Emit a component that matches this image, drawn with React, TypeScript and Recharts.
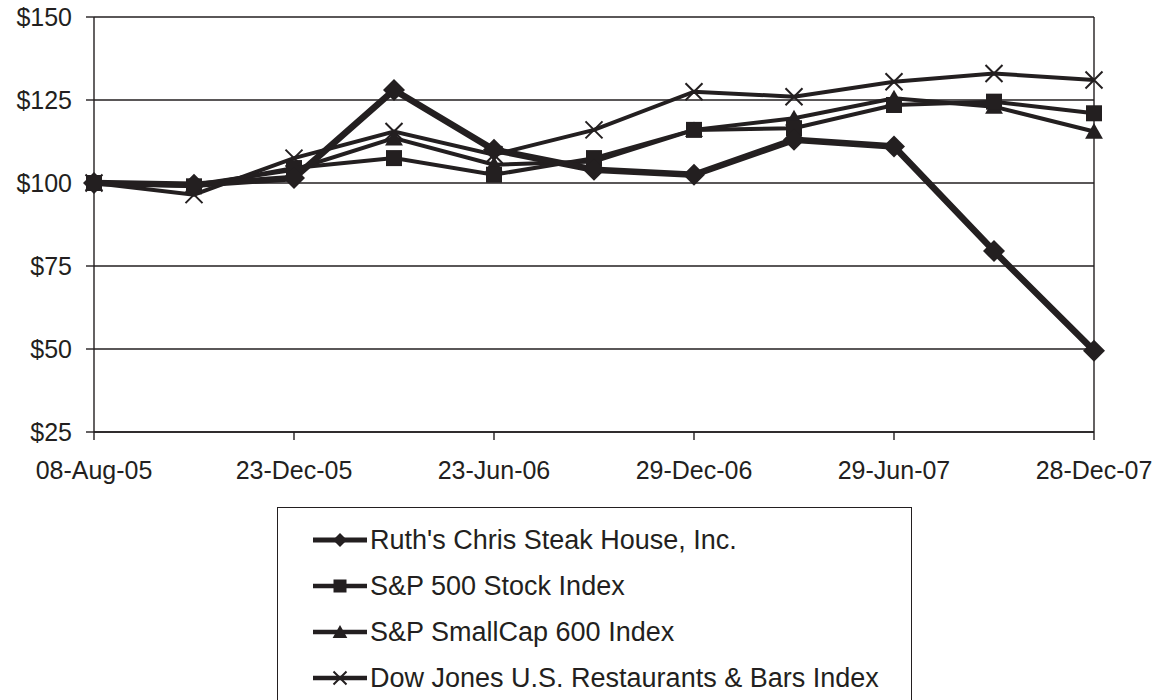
import React from 'react';
import { LineChart, Line, XAxis, YAxis, CartesianGrid, Legend, ReferenceLine } from 'recharts';

// ---- data ----
const periods = [0, 1, 2, 3, 4, 5, 6, 7, 8, 9, 10];
const dateLabels = ['08-Aug-05', '23-Dec-05', '23-Jun-06', '29-Dec-06', '29-Jun-07', '28-Dec-07'];
const labelPositions = [0, 2, 4, 6, 8, 10];
const ruthsChris = [100, 99.5, 101.5, 128, 110, 104, 102.5, 113, 111, 79.5, 49.5];
const sp500 = [100, 99, 104.5, 107.5, 102.5, 107.5, 116, 116.5, 123.5, 124.5, 121];
const smallCap600 = [100, 99.5, 104, 113.5, 105.5, 106.5, 116, 119.5, 125.5, 123, 115.5];
const dowJonesRestaurants = [100, 96.5, 107.5, 115.5, 108.5, 116, 127.5, 126, 130.5, 133, 131];
const yTicks = [25, 50, 75, 100, 125, 150];
const seriesNames = [
  "Ruth's Chris Steak House, Inc.",
  'S&P 500 Stock Index',
  'S&P SmallCap 600 Index',
  'Dow Jones U.S. Restaurants & Bars Index',
];

const data = periods.map((p, i) => ({
  period: p,
  ruth: ruthsChris[i],
  sp500: sp500[i],
  small: smallCap600[i],
  dow: dowJonesRestaurants[i],
}));

const INK = '#231f20';
const FONT = '"Liberation Sans", Arial, Helvetica, sans-serif';

type Shape = 'diamond' | 'square' | 'triangle' | 'x';

function marker(shape: Shape, cx: number, cy: number, s: number, key?: any) {
  if (shape === 'diamond') {
    return (
      <path key={key} d={`M${cx},${cy - s}L${cx + s},${cy}L${cx},${cy + s}L${cx - s},${cy}Z`} fill={INK} stroke="none" />
    );
  }
  if (shape === 'square') {
    return <rect key={key} x={cx - s} y={cy - s} width={2 * s} height={2 * s} fill={INK} />;
  }
  if (shape === 'triangle') {
    return (
      <path key={key} d={`M${cx},${cy - s}L${cx + s * 1.05},${cy + s * 0.85}L${cx - s * 1.05},${cy + s * 0.85}Z`} fill={INK} />
    );
  }
  return (
    <path key={key} d={`M${cx - s},${cy - s}L${cx + s},${cy + s}M${cx + s},${cy - s}L${cx - s},${cy + s}`} stroke={INK} strokeWidth={2} fill="none" />
  );
}

const dotFor = (shape: Shape, s: number) => (props: any) => {
  const { cx, cy, key, index } = props;
  if (cx == null || cy == null) return <g key={key ?? index} />;
  return marker(shape, cx, cy, s, key ?? `${shape}-${index}`);
};

const legendShapes: Shape[] = ['diamond', 'square', 'triangle', 'x'];
const legendSizes = [7, 6.5, 7, 6.5];
const legendWidths = [5, 4.5, 4.5, 4.5];

const renderLegend = () => (
  <div
    style={{
      border: `1px solid ${INK}`,
      boxSizing: 'border-box',
      width: 635,
      height: 215,
      paddingTop: 9,
      fontFamily: FONT,
      fontSize: 27,
      color: INK,
    }}
  >
    {seriesNames.map((name, i) => (
      <div key={name} style={{ display: 'flex', alignItems: 'center', height: 46 }}>
        <svg width={54} height={24} style={{ marginLeft: 35, marginRight: 3, flex: 'none' }}>
          <line x1={0} y1={12} x2={54} y2={12} stroke={INK} strokeWidth={legendWidths[i]} />
          {marker(legendShapes[i], 27, 12, legendSizes[i])}
        </svg>
        <span style={{ whiteSpace: 'nowrap', lineHeight: '30px' }}>{name}</span>
      </div>
    ))}
  </div>
);

export default function App() {
  return (
    <div style={{ position: 'absolute', left: 0, top: 0, width: 1162, height: 700, background: '#fff', overflow: 'hidden' }}>
      <LineChart width={1162} height={700} data={data} margin={{ top: 17, right: 68, left: 0, bottom: 208 }}>
        <CartesianGrid vertical={false} stroke={INK} strokeWidth={1.4} />
        <XAxis
          type="number"
          dataKey="period"
          domain={[0, 10]}
          ticks={labelPositions}
          tickFormatter={(v: number) => dateLabels[labelPositions.indexOf(v)] ?? ''}
          height={60}
          tickSize={8}
          tickMargin={21}
          axisLine={{ stroke: INK, strokeWidth: 1.4 }}
          tickLine={{ stroke: INK, strokeWidth: 1.4 }}
          tick={{ fill: INK, fontSize: 25, fontFamily: FONT }}
          interval={0}
        />
        <YAxis
          domain={[25, 150]}
          ticks={yTicks}
          tickFormatter={(v: number) => `$${v}`}
          width={94}
          tickSize={8}
          tickMargin={14}
          axisLine={{ stroke: INK, strokeWidth: 1.4 }}
          tickLine={{ stroke: INK, strokeWidth: 1.4 }}
          tick={{ fill: INK, fontSize: 25, fontFamily: FONT }}
          interval={0}
        />
        <ReferenceLine x={10} stroke={INK} strokeWidth={1.4} />
        <Line dataKey="dow" name={seriesNames[3]} stroke={INK} strokeWidth={4} dot={dotFor('x', 8.5)} isAnimationActive={false} />
        <Line dataKey="small" name={seriesNames[2]} stroke={INK} strokeWidth={4} dot={dotFor('triangle', 8.5)} isAnimationActive={false} />
        <Line dataKey="sp500" name={seriesNames[1]} stroke={INK} strokeWidth={4} dot={dotFor('square', 8)} isAnimationActive={false} />
        <Line dataKey="ruth" name={seriesNames[0]} stroke={INK} strokeWidth={6.5} dot={dotFor('diamond', 11)} isAnimationActive={false} />
        <Legend
          layout="horizontal"
          verticalAlign="middle"
          align="center"
          wrapperStyle={{ left: 277, top: 507, width: 635, height: 215 }}
          content={renderLegend}
        />
      </LineChart>
    </div>
  );
}
